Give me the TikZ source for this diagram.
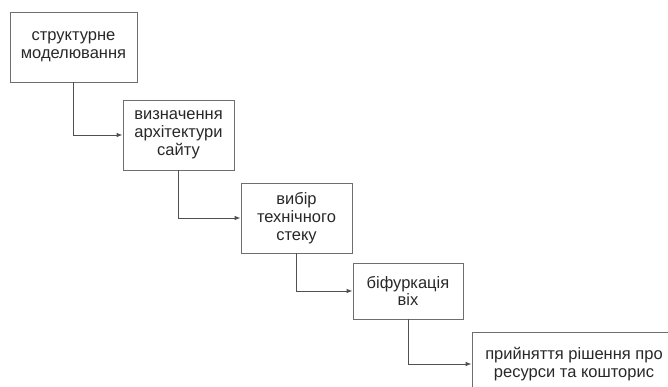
\documentclass[tikz,border=0pt]{standalone}
\usepackage{fontspec}
\setmainfont{Liberation Sans}
\usepackage{xcolor}
\usetikzlibrary{arrows.meta}
\definecolor{boxgray}{RGB}{110,110,110}
\definecolor{linegray}{RGB}{80,80,80}
\definecolor{textgray}{RGB}{40,40,40}

\begin{document}
\begin{tikzpicture}[
        x=1pt, y=-1pt,
        every node/.style={font=\fontsize{16.5}{17.8}\selectfont, text=textgray},
        box/.style={draw=boxgray, line width=0.8pt, minimum height=70pt, align=center, inner sep=0pt},
        link/.style={-{Latex[length=6pt,width=4.5pt]}, draw=linegray, line width=0.9pt},
    ]
        \useasboundingbox (0,0) rectangle (668,387);
        \clip (0,0) rectangle (668,387);

        \node[box, minimum width=127pt] (model) at (73.5,47) {структурне\\моделювання};
        \node[box, minimum width=111pt] (arch) at (178.5,135) {визначення\\архітектури\\сайту};
        \node[box, minimum width=111pt] (stack) at (296.5,218) {вибір\\технічного\\стеку};
        \node[box, minimum width=110pt, minimum height=56pt] (bifur) at (408,291) {біфуркація\\віх};
        \node[box, minimum width=204pt, minimum height=64pt] (budget) at (574,364) {прийняття рішення про\\ресурси та кошторис};

        \draw[link] (model) |- (arch);
        \draw[link] (arch) |- (stack);
        \draw[link] (stack) |- (bifur);
        \draw[link] (bifur) |- (budget);
    \end{tikzpicture}
\end{document}
